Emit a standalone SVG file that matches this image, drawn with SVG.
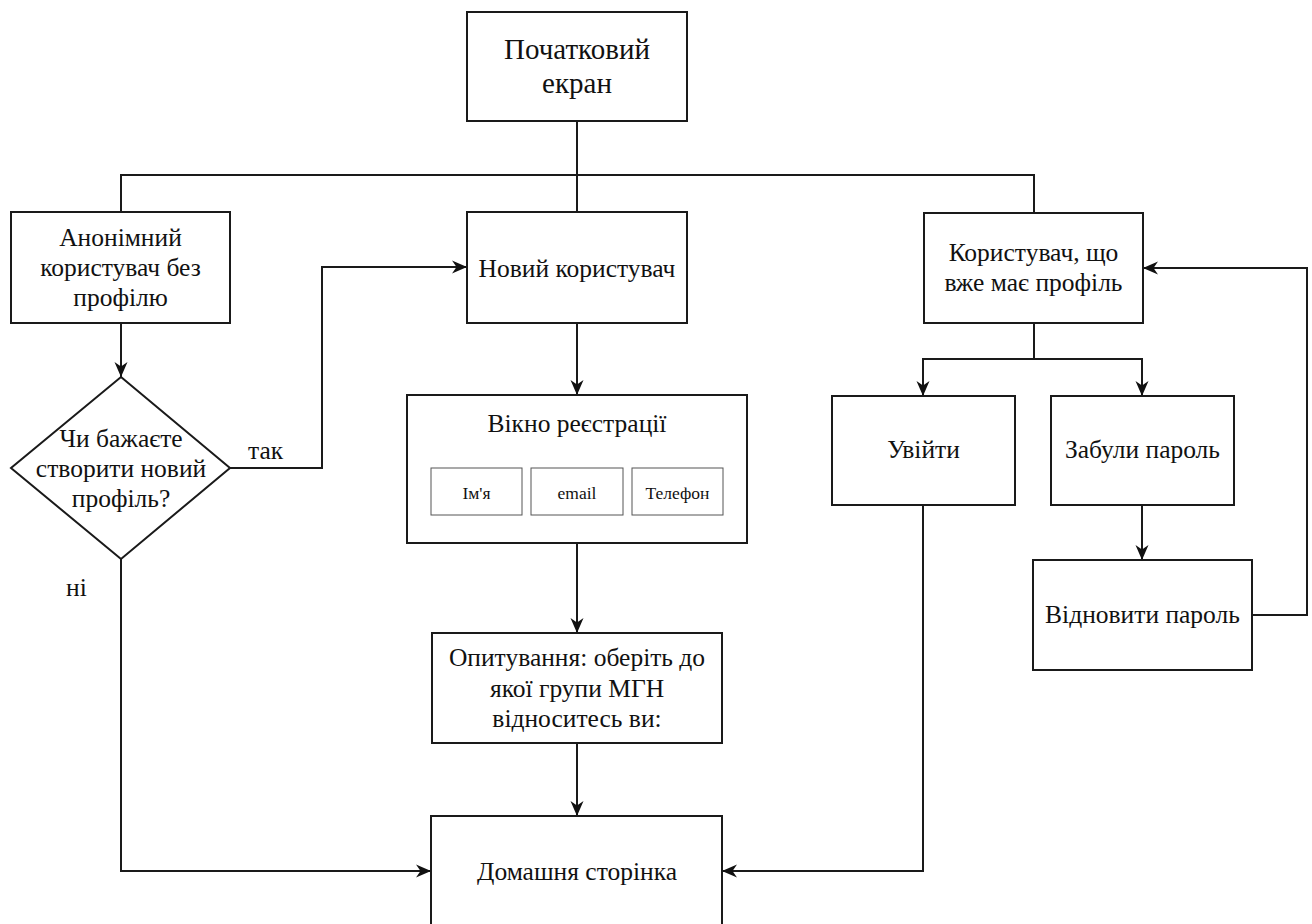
<svg xmlns="http://www.w3.org/2000/svg" width="1312" height="924" viewBox="0 0 1312 924">
<style>
.box{fill:#fff;stroke:#1a1a1a;stroke-width:2}
.sub{fill:#fff;stroke:#555;stroke-width:1}
text{font-family:'Liberation Serif','Times New Roman',serif;font-size:25.5px;fill:#111}
.t{text-anchor:middle}
.big{font-size:29px}
.small{font-size:17.5px}
.lbl{text-anchor:start}
.c{fill:none;stroke:#1a1a1a;stroke-width:2}
</style>
<defs>
<marker id="arr" viewBox="0 0 15 14" refX="15" refY="7" markerWidth="15" markerHeight="14" markerUnits="userSpaceOnUse" orient="auto">
<path d="M0,0.5 L15,7 L0,13.5 L4.5,7 Z" fill="#111"/>
</marker>
</defs>
<g id="connectors">
<path class="c" d="M577,121 L577,212"/>
<path class="c" d="M121,212 L121,175 L1034,175 L1034,213"/>
<path class="c" d="M121,323 L121,377" marker-end="url(#arr)"/>
<path class="c" d="M230,468 L322,468 L322,267 L467,267" marker-end="url(#arr)"/>
<path class="c" d="M121,559 L121,871 L431,871" marker-end="url(#arr)"/>
<path class="c" d="M577,323 L577,395" marker-end="url(#arr)"/>
<path class="c" d="M577,543 L577,633" marker-end="url(#arr)"/>
<path class="c" d="M577,743 L577,816" marker-end="url(#arr)"/>
<path class="c" d="M1034,323 L1034,359 L923,359 L923,396" marker-end="url(#arr)"/>
<path class="c" d="M1034,359 L1142,359 L1142,396" marker-end="url(#arr)"/>
<path class="c" d="M1142,505 L1142,560" marker-end="url(#arr)"/>
<path class="c" d="M1252,615 L1307,615 L1307,268 L1143,268" marker-end="url(#arr)"/>
<path class="c" d="M923,505 L923,871 L722,871" marker-end="url(#arr)"/>
<text class="lbl" x="248" y="459">так</text>
<text class="lbl" x="66" y="596">ні</text>
</g>
<g id="start">
<rect class="box" x="467" y="12" width="220" height="109"/>
<text class="t big" x="577" y="59">Початковий</text>
<text class="t big" x="577" y="93">екран</text>
</g>
<g id="anon">
<rect class="box" x="11" y="212" width="219" height="111"/>
<text class="t" x="120.5" y="246">Анонімний</text>
<text class="t" x="120.5" y="276">користувач без</text>
<text class="t" x="120.5" y="306">профілю</text>
</g>
<g id="decision">
<polygon class="box" points="121,377 230,468 121,559 11,468"/>
<text class="t" x="121" y="447">Чи бажаєте</text>
<text class="t" x="121" y="477">створити новий</text>
<text class="t" x="121" y="507">профіль?</text>
</g>
<g id="new-user">
<rect class="box" x="467" y="212" width="220" height="111"/>
<text class="t" x="577" y="277">Новий користувач</text>
</g>
<g id="registration">
<rect class="box" x="407" y="395" width="340" height="148"/>
<text class="t" x="577" y="432">Вікно реєстрації</text>
<rect class="sub" x="431" y="468" width="91" height="47"/>
<text class="t small" x="476.5" y="499">Ім'я</text>
<rect class="sub" x="531" y="468" width="92" height="47"/>
<text class="t small" x="577" y="499">email</text>
<rect class="sub" x="632" y="468" width="91" height="47"/>
<text class="t small" x="677.5" y="499">Телефон</text>
</g>
<g id="survey">
<rect class="box" x="432" y="633" width="290" height="110"/>
<text class="t" x="577" y="666">Опитування: оберіть до</text>
<text class="t" x="577" y="697">якої групи МГН</text>
<text class="t" x="577" y="727">відноситесь ви:</text>
</g>
<g id="home">
<rect class="box" x="431" y="816" width="291" height="112"/>
<text class="t" x="577" y="880">Домашня сторінка</text>
</g>
<g id="existing-user">
<rect class="box" x="924" y="213" width="219" height="110"/>
<text class="t" x="1033.5" y="261">Користувач, що</text>
<text class="t" x="1033.5" y="291">вже має профіль</text>
</g>
<g id="login">
<rect class="box" x="832" y="396" width="183" height="109"/>
<text class="t" x="923.5" y="458">Увійти</text>
</g>
<g id="forgot">
<rect class="box" x="1051" y="396" width="183" height="109"/>
<text class="t" x="1142.5" y="458">Забули пароль</text>
</g>
<g id="restore">
<rect class="box" x="1033" y="560" width="219" height="110"/>
<text class="t" x="1142.5" y="623">Відновити пароль</text>
</g>
</svg>
